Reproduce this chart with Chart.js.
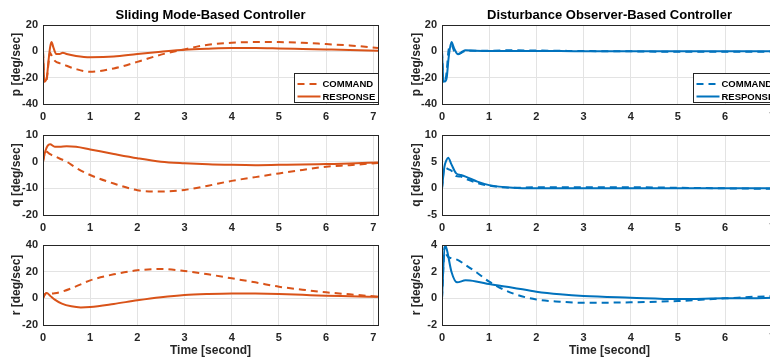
<!DOCTYPE html>
<html>
<head>
<meta charset="utf-8">
<script src="https://cdn.jsdelivr.net/npm/chart.js@4/dist/chart.umd.min.js"></script>
<style>
  body { margin: 0; background: #fff; overflow: hidden; }
  #wrap { position: relative; width: 770px; height: 364px; overflow: hidden; }
  canvas { position: absolute; }
</style>
</head>
<body>
<div id="wrap">
  <canvas id="smP" width="390" height="122" style="left:0;top:0"></canvas>
  <canvas id="smQ" width="390" height="110" style="left:0;top:122px"></canvas>
  <canvas id="smR" width="390" height="132" style="left:0;top:232px"></canvas>
  <canvas id="doP" width="400" height="122" style="left:400px;top:0"></canvas>
  <canvas id="doQ" width="400" height="110" style="left:400px;top:122px"></canvas>
  <canvas id="doR" width="400" height="132" style="left:400px;top:232px"></canvas>
</div>
<script>
// --- sliding mode controller (left column) ---
const timeSmP = [0, 0.03, 0.08, 0.12, 0.15, 0.18, 0.22, 0.28, 0.35, 0.42, 0.5, 0.7, 1, 1.5, 2, 2.5, 3, 3.5, 4, 4.5, 5, 5.5, 6, 6.5, 7.1];
const cmdSmP  = [0, -24, -21, -8, -1, -3, -6, -8, -9, -10, -11, -13.5, -15.5, -13, -8, -2.5, 1.5, 5, 6.5, 7, 7, 6.5, 5.5, 4.5, 2.5];
const resSmP  = [0, -23, -20, -6, 3, 7, 3, -2, -2, -1, -2, -3.5, -4.5, -4, -2, -0.3, 1.2, 2, 2.5, 2.5, 2.2, 1.8, 1.4, 1, 0.5];

const timeSmQ = [0, 0.05, 0.1, 0.15, 0.25, 0.35, 0.5, 0.7, 1, 1.5, 2, 2.5, 3, 3.5, 4, 4.5, 5, 5.5, 6, 6.5, 7.1];
const cmdSmQ  = [0, 4, 3.5, 2.8, 2, 1.2, 0, -2.3, -5, -8.2, -10.7, -11.2, -10.6, -9, -7.2, -5.8, -4.4, -3.1, -1.9, -1.3, -0.5];
const resSmQ  = [0, 4, 6, 6.5, 5.6, 5.6, 5.8, 5.6, 4.6, 2.9, 1.3, 0, -0.6, -1, -1.2, -1.3, -1.2, -1.1, -0.9, -0.7, -0.3];

const timeSmR = [0, 0.04, 0.08, 0.15, 0.25, 0.4, 0.6, 0.8, 1, 1.5, 2, 2.5, 3, 3.5, 4, 4.5, 5, 5.5, 6, 6.5, 7.1];
const cmdSmR  = [0, 3, 4, 3.5, 3.8, 5, 7.5, 10.5, 13.5, 18, 21, 22, 20.5, 18, 15, 12, 8.7, 6.5, 4.5, 3, 1.2];
const resSmR  = [0, 3, 4, 2, -1, -4, -6, -6.8, -6.5, -4.2, -1.5, 0.8, 2.5, 3.3, 3.7, 3.6, 3.2, 2.6, 2, 1.6, 1.1];

// --- disturbance observer controller (right column) ---
const timeDoP = [0, 0.03, 0.06, 0.1, 0.14, 0.2, 0.26, 0.34, 0.42, 0.5, 0.7, 1, 1.5, 2, 2.5, 3, 4, 5, 6, 7.1];
const cmdDoP  = [0, -23, -24, -15, 1, 5, 0, -2, -1, 0.5, 0.5, 0.5, 0.8, 0.6, 0.4, 0.2, 0, -0.4, -0.3, -0.2];
const resDoP  = [0, -22, -23, -20, -5, 7, 2, -2.3, -0.5, 0.8, 0.5, 0.3, 0.3, 0.2, 0.2, 0.1, 0, 0, 0, 0];

const timeDoQ = [0, 0.05, 0.09, 0.13, 0.2, 0.3, 0.4, 0.5, 0.75, 1, 1.5, 2, 3, 4, 5, 6, 7.1];
const cmdDoQ  = [0, 4, 3.8, 3.6, 3.3, 2.3, 2.2, 1.8, 1.0, 0.5, 0.1, 0.2, 0.2, 0.2, 0.1, 0, -0.1];
const resDoQ  = [0, 4, 5.2, 5.75, 4.5, 2.8, 2.5, 2.2, 1.25, 0.6, 0.1, 0, 0, 0, 0, 0, 0];

const timeDoR = [0, 0.06, 0.1, 0.2, 0.32, 0.5, 0.75, 1, 1.5, 2, 2.5, 3, 4, 5, 6, 7, 7.1];
const cmdDoR  = [0, 3.9, 3.25, 3.0, 2.9, 2.5, 1.9, 1.25, 0.37, -0.08, -0.25, -0.33, -0.3, -0.2, 0, 0.15, 0.15];
const resDoR  = [0, 4, 3.7, 2.0, 1.2, 1.35, 1.25, 1.07, 0.8, 0.5, 0.3, 0.17, 0.05, -0.05, 0, 0.05, 0.1];

// axis limits / ticks
const timeRange = [0, 7.1];
const pRange = [-40, 20], pStep = 20;
const qRangeSm = [-20, 10], qStepSm = 10;
const rRangeSm = [-20, 40], rStepSm = 20;
const qRangeDo = [-5, 10], qStepDo = 5;
const rRangeDo = [-2, 4], rStepDo = 2;

const seriesNames = ['COMMAND', 'RESPONSE'];
const ORANGE = '#D95319';
const BLUE = '#0072BD';
const FONT = '"Liberation Sans", Arial, sans-serif';
const INK = '#262626';

const toPoints = (t, v) => t.map((x, i) => ({ x: x, y: v[i] }));

// MATLAB style axes box + legend in the lower right corner
const boxPlugin = {
  id: 'box',
  afterDraw(chart, args, opts) {
    const { ctx, chartArea: a } = chart;
    ctx.save();
    ctx.strokeStyle = INK;
    ctx.lineWidth = 1;
    ctx.strokeRect(Math.round(a.left) + 0.5, Math.round(a.top) + 0.5,
                   Math.round(a.right - a.left), Math.round(a.bottom - a.top));
    if (opts.legend) {
      const w = 84, h = 29;
      const x0 = Math.round(a.right) - w + 0.5, y0 = Math.round(a.bottom) - h - 1.5;
      ctx.fillStyle = '#fff';
      ctx.fillRect(x0, y0, w, h);
      ctx.strokeRect(x0, y0, w, h);
      ctx.font = 'bold 9.5px ' + FONT;
      ctx.textBaseline = 'middle';
      chart.data.datasets.forEach((ds, i) => {
        const y = y0 + 10.5 + i * 12.5;
        ctx.strokeStyle = ds.borderColor;
        ctx.lineWidth = ds.borderWidth;
        ctx.setLineDash(ds.borderDash || []);
        ctx.beginPath();
        ctx.moveTo(x0 + 3, y);
        ctx.lineTo(x0 + 26, y);
        ctx.stroke();
        ctx.setLineDash([]);
        ctx.fillStyle = '#000';
        ctx.fillText(ds.label, x0 + 28, y + 0.5);
      });
    }
    ctx.restore();
  }
};

function makePanel(id, opt) {
  const axisW = opt.right ? 42 : 43;
  new Chart(document.getElementById(id), {
    type: 'line',
    data: {
      datasets: [
        {
          label: seriesNames[0],
          data: toPoints(opt.t, opt.cmd),
          borderColor: opt.color,
          borderWidth: 2,
          borderDash: [7, 5],
          pointRadius: 0,
          cubicInterpolationMode: 'monotone'
        },
        {
          label: seriesNames[1],
          data: toPoints(opt.t, opt.res),
          borderColor: opt.color,
          borderWidth: 2,
          pointRadius: 0,
          cubicInterpolationMode: 'monotone'
        }
      ]
    },
    options: {
      responsive: false,
      animation: false,
      events: [],
      layout: { padding: { left: 0, right: opt.right ? 23 : 12, top: opt.title ? 0 : 13, bottom: 0 } },
      scales: {
        x: {
          type: 'linear',
          min: timeRange[0],
          max: timeRange[1],
          afterFit: s => { s.height = opt.xTitle ? 39 : (opt.title ? 18 : 17); },
          ticks: { stepSize: 1, includeBounds: false, padding: 6, color: INK, font: { family: FONT, size: 11, weight: 'bold' } },
          grid: { color: '#e3e3e3', drawTicks: false },
          border: { display: false },
          title: {
            display: !!opt.xTitle,
            text: 'Time [second]',
            color: INK,
            font: { family: FONT, size: 12, weight: 'bold' },
            padding: { top: 0, bottom: 5.8 }
          }
        },
        y: {
          min: opt.range[0],
          max: opt.range[1],
          afterFit: s => { s.width = axisW; },
          ticks: { stepSize: opt.step, includeBounds: false, padding: 5, color: INK, font: { family: FONT, size: 11, weight: 'bold' } },
          grid: { color: '#e3e3e3', drawTicks: false },
          border: { display: false },
          title: {
            display: true,
            text: opt.yLabel,
            color: INK,
            font: { family: FONT, size: 12, weight: 'bold' },
            padding: { top: 9.5, bottom: 0 }
          }
        }
      },
      plugins: {
        legend: { display: false },
        tooltip: { enabled: false },
        title: {
          display: !!opt.title,
          text: opt.title || '',
          fullSize: false,
          color: '#000',
          font: { family: FONT, size: 13, weight: 'bold' },
          padding: { top: 8, bottom: 1.4 }
        },
        box: { legend: !!opt.legend }
      }
    },
    plugins: [boxPlugin]
  });
}

makePanel('smP', { t: timeSmP, cmd: cmdSmP, res: resSmP, color: ORANGE, range: pRange, step: pStep, yLabel: 'p [deg/sec]', title: 'Sliding Mode-Based Controller', legend: true });
makePanel('smQ', { t: timeSmQ, cmd: cmdSmQ, res: resSmQ, color: ORANGE, range: qRangeSm, step: qStepSm, yLabel: 'q [deg/sec]' });
makePanel('smR', { t: timeSmR, cmd: cmdSmR, res: resSmR, color: ORANGE, range: rRangeSm, step: rStepSm, yLabel: 'r [deg/sec]', xTitle: true });

makePanel('doP', { t: timeDoP, cmd: cmdDoP, res: resDoP, color: BLUE, range: pRange, step: pStep, yLabel: 'p [deg/sec]', title: 'Disturbance Observer-Based Controller', legend: true, right: true });
makePanel('doQ', { t: timeDoQ, cmd: cmdDoQ, res: resDoQ, color: BLUE, range: qRangeDo, step: qStepDo, yLabel: 'q [deg/sec]', right: true });
makePanel('doR', { t: timeDoR, cmd: cmdDoR, res: resDoR, color: BLUE, range: rRangeDo, step: rStepDo, yLabel: 'r [deg/sec]', xTitle: true, right: true });
</script>
</body>
</html>
